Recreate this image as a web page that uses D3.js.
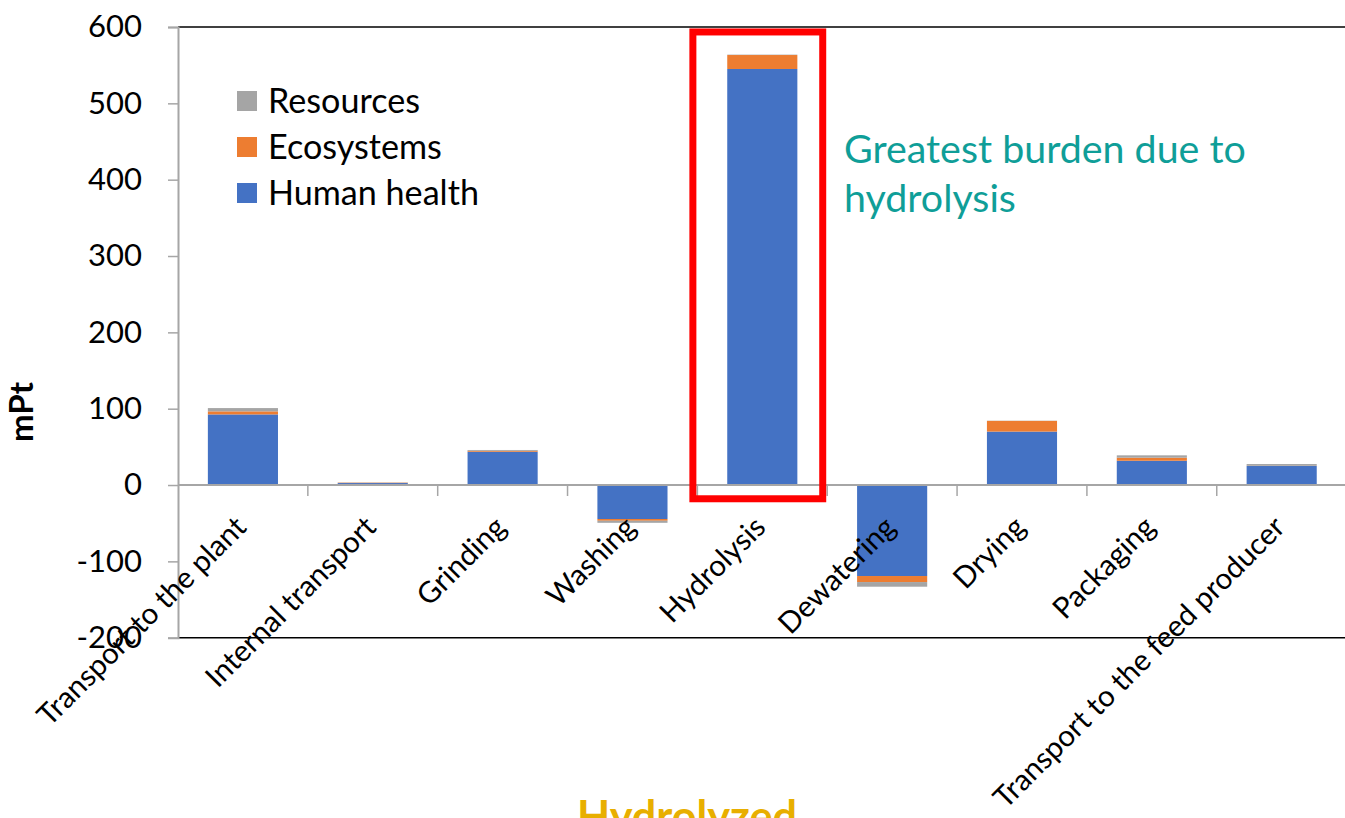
<!DOCTYPE html>
<html>
<head>
<meta charset="utf-8">
<script src="https://cdn.jsdelivr.net/npm/d3@7"></script>
<style>
  html, body { margin: 0; padding: 0; background: #ffffff; overflow: hidden; }
  svg { display: block; font-family: Lato, "Open Sans", sans-serif; }
</style>
</head>
<body>
<svg id="chart" width="1345" height="818"></svg>
<script>
// Single-score impact per process step (mPt), split by damage category
const categories = [
  "Transport to the plant", "Internal transport", "Grinding", "Washing",
  "Hydrolysis", "Dewatering", "Drying", "Packaging", "Transport to the feed producer"
];
const humanHealth = [92.5, 2.6, 43.6, -44.5, 545, -119.2, 70, 31.8, 24.9];
const ecosystems  = [4.0, 0.5, 1.2, -2.3, 18.3, -7.9, 14, 4.0, 0.3];
const resources   = [4.3, 0.3, 1.1, -2.7, 0.5, -6.1, 0.3, 3.1, 2.3];

const seriesNames = ["Human health", "Ecosystems", "Resources"];
const legendOrder = ["Resources", "Ecosystems", "Human health"];
const yTicks = [-200, -100, 0, 100, 200, 300, 400, 500, 600];
const highlightRange = [-18, 593.5];   // value span enclosed by the highlight frame

const colors = {
  "Human health": "#4472C4",
  "Ecosystems": "#ED7D31",
  "Resources": "#A5A5A5"
};

const svg = d3.select("#chart");
const margin = { left: 178, top: 27, right: 0 };
const plotRight = 1346.6;

const x = d3.scaleBand()
  .domain(categories)
  .range([margin.left, plotRight])
  .paddingInner(0.46)
  .paddingOuter(0.23);

const y = d3.scaleLinear()
  .domain([-200, 600])
  .range([637.7, margin.top]);

// Build rows for stacking
const rows = categories.map((c, i) => ({
  category: c,
  "Human health": humanHealth[i],
  "Ecosystems": ecosystems[i],
  "Resources": resources[i]
}));

const stacked = d3.stack()
  .keys(seriesNames)
  .offset(d3.stackOffsetDiverging)(rows);

// Plot frame: top and bottom edges
svg.append("line")
  .attr("x1", margin.left).attr("x2", 1345)
  .attr("y1", y(600)).attr("y2", y(600))
  .attr("stroke", "#000").attr("stroke-width", 1.5);
svg.append("line")
  .attr("x1", margin.left).attr("x2", 1345)
  .attr("y1", y(-200)).attr("y2", y(-200))
  .attr("stroke", "#000").attr("stroke-width", 1.5);

// Stacked bars
svg.append("g")
  .selectAll("g")
  .data(stacked)
  .join("g")
  .attr("fill", d => colors[d.key])
  .selectAll("rect")
  .data(d => d)
  .join("rect")
  .attr("x", d => x(d.data.category))
  .attr("width", x.bandwidth())
  .attr("y", d => y(Math.max(d[0], d[1])))
  .attr("height", d => Math.abs(y(d[0]) - y(d[1])));

// Y axis
const yAxis = svg.append("g")
  .attr("transform", `translate(${margin.left},0)`)
  .call(d3.axisLeft(y).tickValues(yTicks).tickFormat(d => String(d)).tickSize(10).tickPadding(26));
yAxis.select(".domain").attr("stroke", "#A6A6A6").attr("stroke-width", 2);
yAxis.selectAll(".tick line").attr("stroke", "#A6A6A6").attr("stroke-width", 1.5);
yAxis.selectAll(".tick text")
  .attr("font-family", "Lato, sans-serif")
  .attr("font-size", 31)
  .attr("fill", "#000");

// Category axis along zero line
const boundaries = d3.range(categories.length + 1).map(i => margin.left + i * x.step());
svg.append("line")
  .attr("x1", margin.left).attr("x2", 1345)
  .attr("y1", y(0)).attr("y2", y(0))
  .attr("stroke", "#A6A6A6").attr("stroke-width", 2);
svg.append("g")
  .selectAll("line")
  .data(boundaries.slice(1))
  .join("line")
  .attr("x1", d => d).attr("x2", d => d)
  .attr("y1", y(0)).attr("y2", y(0) + 11)
  .attr("stroke", "#A6A6A6").attr("stroke-width", 1.5);

// Rotated category labels
svg.append("g")
  .selectAll("text")
  .data(categories)
  .join("text")
  .attr("transform", d => `translate(${x(d) + x.bandwidth() / 2 + 5},${y(0) + 44}) rotate(-45)`)
  .attr("text-anchor", "end")
  .attr("font-size", 29.5)
  .attr("fill", "#000")
  .text(d => d);

// Highlight frame around the hydrolysis bar
const hx = x("Hydrolysis") + x.bandwidth() / 2 - 4.5;
svg.append("rect")
  .attr("x", hx - x.step() / 2)
  .attr("width", x.step())
  .attr("y", y(highlightRange[1]))
  .attr("height", y(highlightRange[0]) - y(highlightRange[1]))
  .attr("fill", "none")
  .attr("stroke", "#FF0000")
  .attr("stroke-width", 7);

// Fit a text element to a given width by scaling its font size
function fitWidth(sel, target) {
  const node = sel.node();
  const size = parseFloat(sel.attr("font-size"));
  const w = node.getComputedTextLength();
  sel.attr("font-size", size * target / w);
  return sel;
}

// Legend
const legend = svg.append("g");
let legendSize = 28;
legendOrder.forEach((name, i) => {
  const cy = 101 + i * 46;
  legend.append("rect")
    .attr("x", 237).attr("y", cy - 10)
    .attr("width", 20).attr("height", 20)
    .attr("fill", colors[name]);
  const t = legend.append("text")
    .attr("x", 268).attr("y", cy)
    .attr("dy", "0.36em")
    .attr("font-size", legendSize)
    .attr("fill", "#000")
    .text(name);
  if (i === 0) {
    fitWidth(t, 152);
    legendSize = parseFloat(t.attr("font-size"));
  }
});

// Annotation
const note1 = svg.append("text")
  .attr("x", 844).attr("y", 163)
  .attr("font-size", 35)
  .attr("fill", "#0F9E98")
  .text("Greatest burden due to");
fitWidth(note1, 402);
svg.append("text")
  .attr("x", 844).attr("y", 212)
  .attr("font-size", note1.attr("font-size"))
  .attr("fill", "#0F9E98")
  .text("hydrolysis");

// Y axis title
const yTitle = svg.append("text")
  .attr("transform", "translate(33,412) rotate(-90)")
  .attr("text-anchor", "middle")
  .attr("font-weight", "bold")
  .attr("font-size", 30)
  .attr("fill", "#000")
  .text("mPt");
fitWidth(yTitle, 60);

// Bottom title (partly below the visible area)
const bottomTitle = svg.append("text")
  .attr("x", 687).attr("y", 832)
  .attr("text-anchor", "middle")
  .attr("font-weight", "bold")
  .attr("font-size", 40)
  .attr("fill", "#E8AF00")
  .text("Hydrolyzed");
fitWidth(bottomTitle, 220);
</script>
</body>
</html>
